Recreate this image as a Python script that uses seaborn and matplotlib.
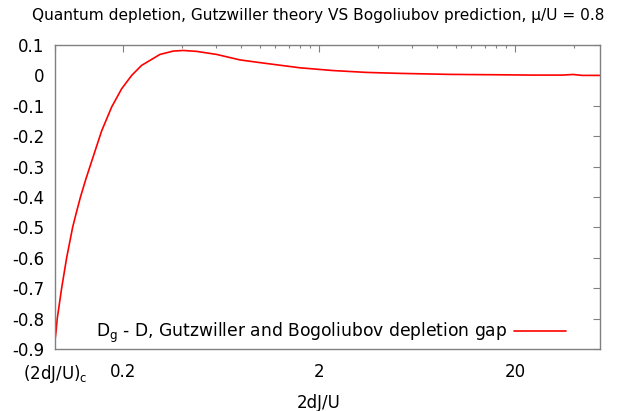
import numpy as np
import pandas as pd
import matplotlib
matplotlib.use('Agg')
import matplotlib.pyplot as plt
import seaborn as sns

# Values
x_vals = [0.0900, 0.0912, 0.0924, 0.0973, 0.1032, 0.1107, 0.1158, 0.1214, 0.1295, 0.1384,
          0.1556, 0.1751, 0.1969, 0.2215, 0.2490, 0.3089, 0.361, 0.406, 0.475, 0.601,
          0.79, 1.0, 1.6, 2.35, 3.5, 5.2, 9.3, 16.8, 24.7, 35.0, 39.5, 44.0, 54.0]
y_vals = [-0.872, -0.84, -0.80, -0.70, -0.60, -0.50, -0.45, -0.40, -0.34, -0.283,
          -0.183, -0.104, -0.044, 0.0, 0.033, 0.069, 0.080, 0.082, 0.079, 0.069,
          0.051, 0.042, 0.025, 0.016, 0.0098, 0.0066, 0.0033, 0.002, 0.001, 0.001, 0.003, 0.0, 0.0]

x_major = [0.090, 0.2, 2, 20]
x_major_labels = ['(2dJ/U)$_\\mathrm{c}$', '0.2', '2', '20']
x_minor = [0.4, 0.6, 0.8, 1.0, 1.2, 1.4, 1.6, 1.8,
           4, 6, 8, 10, 12, 14, 16, 18, 40]
y_ticks = [0.1, 0, -0.1, -0.2, -0.3, -0.4, -0.5, -0.6, -0.7, -0.8, -0.9]
y_tick_labels = ['0.1', '0', '-0.1', '-0.2', '-0.3', '-0.4', '-0.5', '-0.6', '-0.7', '-0.8', '-0.9']

series_label = 'D$_\\mathrm{g}$ - D, Gutzwiller and Bogoliubov depletion gap'

sns.set_style('white')
plt.rcParams['font.family'] = ['DejaVu Sans']
plt.rcParams['text.color'] = 'black'
plt.rcParams['xtick.labelcolor'] = 'black'
plt.rcParams['ytick.labelcolor'] = 'black'
plt.rcParams['axes.labelcolor'] = 'black'

df = pd.DataFrame({'x': x_vals, 'y': y_vals})

fig = plt.figure(figsize=(6.25, 4.11), dpi=100)
ax = fig.add_axes([0.088, 0.151, 0.872, 0.7395])

sns.lineplot(data=df, x='x', y='y', color='red', lw=1.2, label=series_label, ax=ax)

ax.set_xscale('log')
ax.set_xlim(0.090, 54.3)
ax.set_ylim(-0.9, 0.1)

ax.set_xticks(x_major)
ax.set_xticklabels(x_major_labels)
ax.set_xticks(x_minor, minor=True)
ax.set_xticklabels([], minor=True)
ax.set_yticks(y_ticks)
ax.set_yticklabels(y_tick_labels)

for s in ax.spines.values():
    s.set_color('#808080')
    s.set_linewidth(1.0)
    s.set_visible(True)

ax.tick_params(which='both', direction='in', top=True, right=True, color='#808080')
ax.tick_params(which='major', length=5, width=0.8, labelsize=12)
ax.tick_params(which='minor', length=2.5, width=0.8)
ax.tick_params(axis='x', which='major', pad=10)
ax.tick_params(axis='y', which='major', pad=7.7)

ax.set_xlabel('2dJ/U', fontsize=12)
ax.xaxis.set_label_coords(0.483, -0.148)
ax.set_ylabel('')
fig.suptitle('Quantum depletion, Gutzwiller theory VS Bogoliubov prediction, \u03bc/U = 0.8',
             fontsize=11.1, x=0.509, y=0.980, va='top')

leg = ax.legend(loc='lower right', markerfirst=False, frameon=False, fontsize=12.3,
                handlelength=3.0, handletextpad=0.4, borderaxespad=0.3,
                bbox_to_anchor=(0.959, -0.025))

plt.savefig('out.png', dpi=100)
plt.close()
